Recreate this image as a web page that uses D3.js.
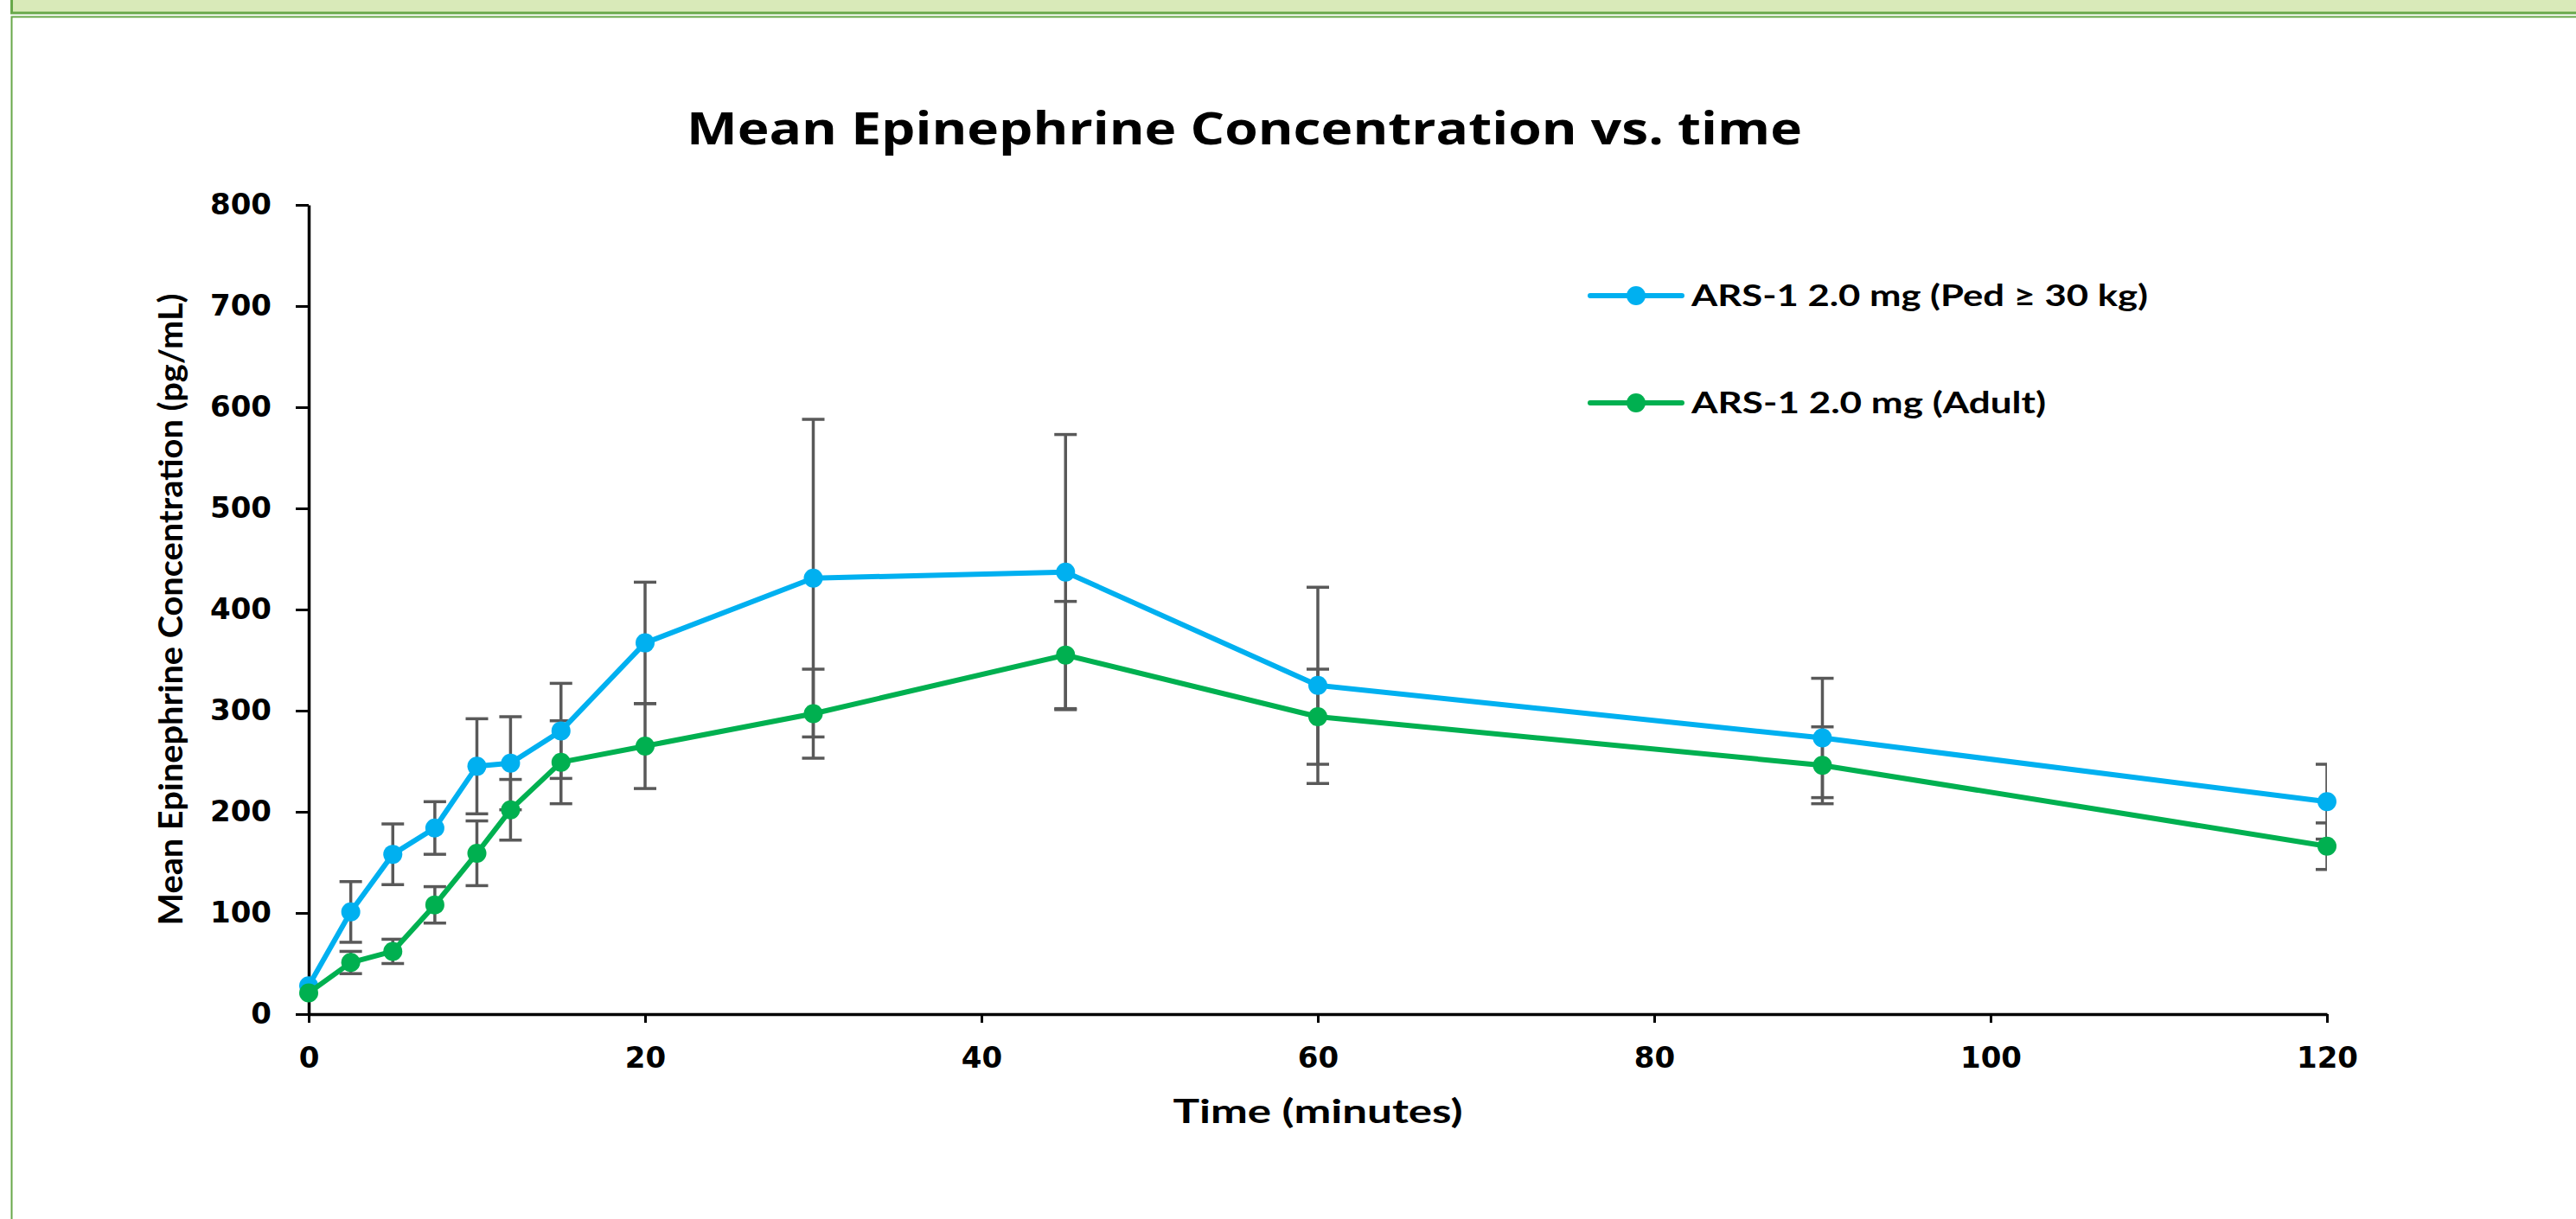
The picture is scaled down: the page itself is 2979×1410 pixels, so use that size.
<!DOCTYPE html>
<html>
<head>
<meta charset="utf-8">
<script src="https://cdn.jsdelivr.net/npm/d3@7"></script>
<style>
  html, body { margin: 0; padding: 0; background: #fff; overflow: hidden; }
  svg { display: block; }
</style>
</head>
<body>
<div id="chart"></div>
<script>
// sampling times (minutes)
const times = [0, 2.5, 5, 7.5, 10, 12, 15, 20, 30, 45, 60, 90, 120];

// ARS-1 2.0 mg (Ped >= 30 kg)
const pedMean = [28, 101, 158, 184, 245, 248, 280, 367, 431, 437, 325, 273, 210];
const pedSD   = [0, 30, 30, 26, 47, 46, 47, 60, 157, 136, 97, 59, 37];

// ARS-1 2.0 mg (Adult)
const adultMean = [21, 51, 62, 108, 159, 202, 249, 265, 297, 355, 294, 246, 166];
const adultSD   = [0, 11, 12, 18, 32, 30, 41, 42, 44, 53, 47, 38, 23];

const xTicks = [0, 20, 40, 60, 80, 100, 120];
const yTicks = [0, 100, 200, 300, 400, 500, 600, 700, 800];

const seriesNames = ["ARS-1 2.0 mg (Ped \u2265 30 kg)", "ARS-1 2.0 mg (Adult)"];
const seriesColors = ["#00B0F0", "#00B050"];

const width = 2979;
const height = 1410;
const plot = {left: 357, right: 2691, top: 237, bottom: 1173};

const svg = d3.select("#chart").append("svg")
  .attr("width", width)
  .attr("height", height);

// page frame (green header band + box)
svg.append("rect")
  .attr("x", 13.5).attr("y", -5)
  .attr("width", width + 10).attr("height", 20)
  .attr("fill", "#D9EAB9")
  .attr("stroke", "#68A84A").attr("stroke-width", 3);
svg.append("rect")
  .attr("x", 13.5).attr("y", 19.5)
  .attr("width", width + 20).attr("height", height + 20)
  .attr("fill", "none")
  .attr("stroke", "#68A84A").attr("stroke-width", 2);

const x = d3.scaleLinear().domain([0, 120]).range([plot.left, plot.right]);
const y = d3.scaleLinear().domain([0, 800]).range([plot.bottom, plot.top]);

svg.append("defs").append("clipPath")
  .attr("id", "plot-clip")
  .append("rect")
  .attr("x", plot.left).attr("y", plot.top - 40)
  .attr("width", plot.right - plot.left).attr("height", plot.bottom - plot.top + 80);

// title
svg.append("text")
  .attr("x", 1439)
  .attr("y", 167)
  .attr("text-anchor", "middle")
  .attr("textLength", 1290)
  .attr("lengthAdjust", "spacingAndGlyphs")
  .style("font-family", "'Open Sans', sans-serif")
  .style("font-weight", "bold")
  .style("font-size", "52px")
  .text("Mean Epinephrine Concentration vs. time");

// axes
const xAxis = d3.axisBottom(x).tickValues(xTicks).tickSize(10).tickPadding(28).tickSizeOuter(0);
const yAxis = d3.axisLeft(y).tickValues(yTicks).tickSize(15).tickPadding(28).tickSizeOuter(0);

const gx = svg.append("g")
  .attr("transform", `translate(0, ${plot.bottom})`)
  .call(xAxis);
const gy = svg.append("g")
  .attr("transform", `translate(${plot.left}, 0)`)
  .call(yAxis);

[gx, gy].forEach(g => {
  g.select(".domain").attr("stroke", "#000").attr("stroke-width", 3.5);
  g.selectAll(".tick line").attr("stroke", "#000").attr("stroke-width", 3);
  g.selectAll(".tick text")
    .attr("fill", "#000")
    .style("font-family", "'DejaVu Sans', sans-serif")
    .style("font-weight", "bold")
    .style("font-size", "34px");
});

// axis titles
svg.append("text")
  .attr("x", (plot.left + plot.right) / 2)
  .attr("y", 1299)
  .attr("text-anchor", "middle")
  .attr("textLength", 335)
  .attr("lengthAdjust", "spacingAndGlyphs")
  .style("font-family", "Lato, sans-serif")
  .style("font-weight", "bold")
  .style("font-size", "38px")
  .text("Time (minutes)");

svg.append("text")
  .attr("transform", `translate(211, ${(plot.top + plot.bottom) / 2}) rotate(-90)`)
  .attr("text-anchor", "middle")
  .attr("textLength", 731)
  .attr("lengthAdjust", "spacingAndGlyphs")
  .style("font-family", "Lato, sans-serif")
  .style("font-weight", "bold")
  .style("font-size", "38px")
  .text("Mean Epinephrine Concentration (pg/mL)");

const series = [
  {name: seriesNames[0], color: seriesColors[0], mean: pedMean, sd: pedSD},
  {name: seriesNames[1], color: seriesColors[1], mean: adultMean, sd: adultSD}
];

// error bars
const errG = svg.append("g").attr("clip-path", "url(#plot-clip)");
series.forEach(s => {
  const pts = times.map((t, i) => ({t, m: s.mean[i], e: s.sd[i]})).filter(d => d.e > 0);
  const g = errG.append("g")
    .attr("stroke", "#595959")
    .attr("stroke-width", 3.5);
  g.selectAll(".stem").data(pts).enter().append("line")
    .attr("x1", d => x(d.t)).attr("x2", d => x(d.t))
    .attr("y1", d => y(d.m + d.e)).attr("y2", d => y(d.m - d.e));
  g.selectAll(".capTop").data(pts).enter().append("line")
    .attr("x1", d => x(d.t) - 13).attr("x2", d => x(d.t) + 13)
    .attr("y1", d => y(d.m + d.e)).attr("y2", d => y(d.m + d.e));
  g.selectAll(".capBot").data(pts).enter().append("line")
    .attr("x1", d => x(d.t) - 13).attr("x2", d => x(d.t) + 13)
    .attr("y1", d => y(d.m - d.e)).attr("y2", d => y(d.m - d.e));
});

// lines and markers
const line = d3.line().x(d => x(d.t)).y(d => y(d.m));
series.forEach(s => {
  const pts = times.map((t, i) => ({t, m: s.mean[i]}));
  svg.append("path")
    .datum(pts)
    .attr("fill", "none")
    .attr("stroke", s.color)
    .attr("stroke-width", 6)
    .attr("stroke-linejoin", "round")
    .attr("d", line);
  svg.append("g").selectAll("circle").data(pts).enter().append("circle")
    .attr("cx", d => x(d.t))
    .attr("cy", d => y(d.m))
    .attr("r", 11)
    .attr("fill", s.color);
});

// legend
const legendY = [342, 466];
series.forEach((s, i) => {
  const g = svg.append("g").attr("transform", `translate(1839, ${legendY[i]})`);
  g.append("line")
    .attr("x1", 0).attr("x2", 106)
    .attr("stroke", s.color).attr("stroke-width", 6)
    .attr("stroke-linecap", "round");
  g.append("circle").attr("cx", 53).attr("r", 11).attr("fill", s.color);
  g.append("text")
    .attr("x", 117)
    .attr("y", 12)
    .attr("textLength", i === 0 ? 528 : 410)
    .attr("lengthAdjust", "spacingAndGlyphs")
    .style("font-family", "Lato, sans-serif")
    .style("font-weight", "bold")
    .style("font-size", "35px")
    .text(s.name);
});
</script>
</body>
</html>
